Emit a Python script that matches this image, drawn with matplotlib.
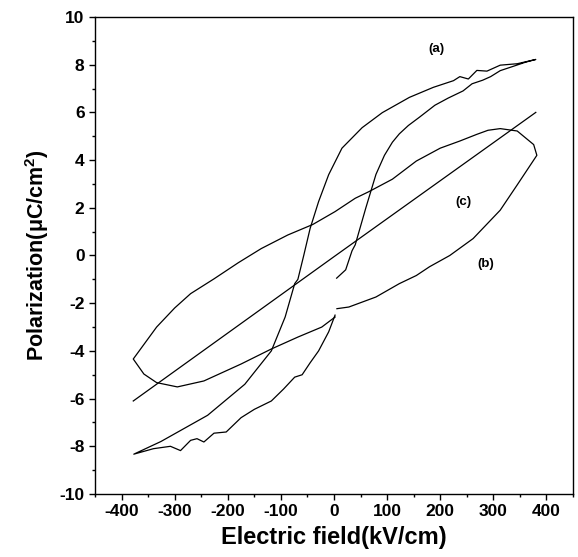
import numpy as np
import matplotlib
matplotlib.use('Agg')
import matplotlib.pyplot as plt
from matplotlib.ticker import MultipleLocator

plt.rcParams['font.family'] = ['Liberation Sans', 'DejaVu Sans']
plt.rcParams['font.weight'] = 'bold'
plt.rcParams['axes.unicode_minus'] = False
plt.rcParams['mathtext.fontset'] = 'custom'
plt.rcParams['mathtext.rm'] = 'Liberation Sans:bold'
plt.rcParams['mathtext.it'] = 'Liberation Sans:bold'
plt.rcParams['mathtext.default'] = 'rm'

# loop (a): rising branch, upper branch, lower branch
a_x = [5, 22, 34, 40, 60, 79, 95, 110, 123, 140, 161, 190, 215, 243, 260, 280, 295, 313, 340, 360, 380,
       345, 313, 288, 269, 253, 237, 225, 187, 142, 91, 53, 15, -10, -29, -45, -57, -68, -74, -92, -118,
       -168, -238, -326, -377,
       -340, -308, -289, -270, -258, -245, -226, -203, -175, -150, -118, -95, -74, -60, -45, -29, -10, 2]
a_y = [-0.95, -0.6, 0.2, 0.45, 2.0, 3.4, 4.2, 4.75, 5.1, 5.45, 5.8, 6.3, 6.6, 6.9, 7.2, 7.35, 7.5, 7.75, 7.95, 8.1, 8.22,
       8.04, 7.98, 7.73, 7.76, 7.4, 7.5, 7.33, 7.05, 6.63, 5.99, 5.36, 4.5, 3.39, 2.26, 1.13, 0.0, -1.0, -1.18, -2.58, -4.0,
       -5.4, -6.7, -7.8, -8.33,
       -8.1, -8.0, -8.18, -7.75, -7.68, -7.82, -7.45, -7.4, -6.8, -6.45, -6.1, -5.6, -5.1, -5.0, -4.5, -4.0, -3.2, -2.5]

# loop (b)
b_x = [5.5, 28, 79, 123, 155, 180, 218, 262, 313, 345, 382,
       376, 345, 313, 290, 269, 237, 200, 155, 110, 66, 40, 2, -40, -87, -137, -180, -226, -270, -300, -334, -378,
       -358, -334, -295, -245, -175, -118, -68, -23, 2]
b_y = [-2.23, -2.16, -1.74, -1.18, -0.84, -0.47, 0.0, 0.71, 1.9, 2.96, 4.2,
       4.65, 5.22, 5.32, 5.25, 5.08, 4.8, 4.5, 3.96, 3.2, 2.68, 2.4, 1.84, 1.3, 0.86, 0.29, -0.3, -0.98, -1.6, -2.2, -3.0, -4.34,
       -4.97, -5.33, -5.51, -5.26, -4.55, -3.92, -3.42, -3.0, -2.58]

# line (c)
c_x = [-378, 0, 380]
c_y = [-6.1, -0.05, 6.0]

labels = ['(a)', '(b)', '(c)']
label_x = [192, 285, 243]
label_y = [8.67, -0.35, 2.26]

fig = plt.figure(figsize=(5.78, 5.57), dpi=100)
ax = fig.add_axes([0.1644, 0.1131, 0.8269, 0.8564])

ax.plot(a_x, a_y, color='black', lw=0.9)
ax.plot(b_x, b_y, color='black', lw=0.9)
ax.plot(c_x, c_y, color='black', lw=0.9)

for lab, lx, ly in zip(labels, label_x, label_y):
    ax.text(lx, ly, lab, fontsize=9.5, fontweight='bold', ha='center', va='center')

ax.set_xlim(-450, 450)
ax.set_ylim(-10, 10)
ax.xaxis.set_major_locator(MultipleLocator(100))
ax.xaxis.set_minor_locator(MultipleLocator(50))
ax.yaxis.set_major_locator(MultipleLocator(2))
ax.yaxis.set_minor_locator(MultipleLocator(1))
ax.tick_params(which='both', direction='out', top=False, right=False, labelsize=12.5, width=1)
ax.tick_params(which='major', length=4)
ax.tick_params(which='minor', length=2)
for lab in ax.get_xticklabels() + ax.get_yticklabels():
    lab.set_fontweight('bold')
for s in ax.spines.values():
    s.set_linewidth(1.0)

ax.set_xlabel('Electric field(kV/cm)', fontsize=17, fontweight='bold', labelpad=5)
ax.set_ylabel('Polarization($\\mu$C/cm$^2$)', fontsize=15.5, fontweight='bold', labelpad=6)

fig.savefig('out.png', dpi=100)
